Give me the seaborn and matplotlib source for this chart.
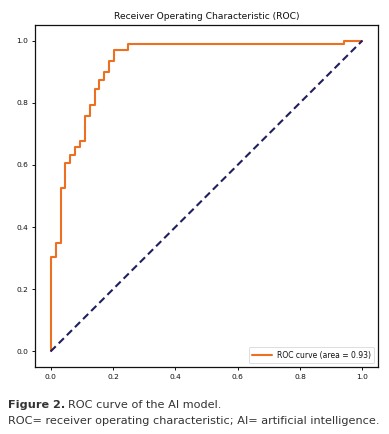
import matplotlib
matplotlib.use("Agg")
import matplotlib.pyplot as plt
import seaborn as sns
import pandas as pd

# ROC curve corner points (step-post)
fpr = [0.0, 0.0, 0.017, 0.033, 0.047, 0.063, 0.078, 0.093, 0.109, 0.125,
       0.141, 0.155, 0.171, 0.186, 0.202, 0.248, 0.940, 1.0]
tpr = [0.0, 0.305, 0.350, 0.527, 0.606, 0.632, 0.658, 0.677, 0.757, 0.793,
       0.845, 0.872, 0.900, 0.934, 0.970, 0.988, 1.0, 1.0]
chance_x = [0.0, 1.0]
chance_y = [0.0, 1.0]
roc_auc = 0.93
xticks = [0.0, 0.2, 0.4, 0.6, 0.8, 1.0]
yticks = [0.0, 0.2, 0.4, 0.6, 0.8, 1.0]
title = "Receiver Operating Characteristic (ROC)"
caption_bold = "Figure 2."
caption_1 = "ROC curve of the AI model."
caption_2 = "ROC= receiver operating characteristic; AI= artificial intelligence."

sns.set_style("ticks")
plt.rcParams["font.family"] = ["DejaVu Sans"]

fig = plt.figure(figsize=(3.89, 4.34), dpi=100)
ax = fig.add_axes([35 / 389, (434 - 367) / 434, (378 - 35) / 389, (367 - 25) / 434])

roc_df = pd.DataFrame({"fpr": fpr, "tpr": tpr})
sns.lineplot(data=roc_df, x="fpr", y="tpr", ax=ax, color="#EC6F22", lw=1.5,
             drawstyle="steps-post", sort=False, estimator=None,
             label=f"ROC curve (area = {roc_auc:.2f})")
diag_df = pd.DataFrame({"x": chance_x, "y": chance_y})
sns.lineplot(data=diag_df, x="x", y="y", ax=ax, color="#1F1F5C", lw=1.5,
             linestyle=(0, (3.5, 2.0)), sort=False, estimator=None)

ax.set_xlim(-0.05, 1.05)
ax.set_ylim(-0.05, 1.05)
ax.set_xticks(xticks)
ax.set_yticks(yticks)
ax.set_xticklabels([f"{t:.1f}" for t in xticks])
ax.set_yticklabels([f"{t:.1f}" for t in yticks])
ax.tick_params(labelsize=5.4, length=2.5, width=0.7, pad=2.5, colors="#111111")
ax.set_xlabel("")
ax.set_ylabel("")
for s in ax.spines.values():
    s.set_visible(True)
    s.set_linewidth(0.9)
    s.set_color("#111111")
ax.set_title(title, fontsize=6.6, pad=4, color="#111111")

leg = ax.legend(loc="lower right", fontsize=5.5, frameon=True, fancybox=True,
                borderpad=0.45, handlelength=2.6, handletextpad=0.6,
                framealpha=0.9)
leg.get_frame().set_linewidth(0.5)
for t in leg.get_texts():
    t.set_color("#111111")

cap_font = ["DejaVu Sans"]
cap_size = 8.1
t1 = fig.text(8 / 389, 1 - 405 / 434, caption_bold, fontsize=cap_size, fontweight="bold",
              family=cap_font, color="#333333", va="center", ha="left")
fig.canvas.draw()
bb = t1.get_window_extent()
fig.text((bb.x1 + 3) / 389, 1 - 405 / 434, caption_1, fontsize=cap_size,
         family=cap_font, color="#333333", va="center", ha="left")
fig.text(8 / 389, 1 - 421 / 434, caption_2, fontsize=cap_size,
         family=cap_font, color="#333333", va="center", ha="left")

fig.savefig("out.png", dpi=100, facecolor="white")
